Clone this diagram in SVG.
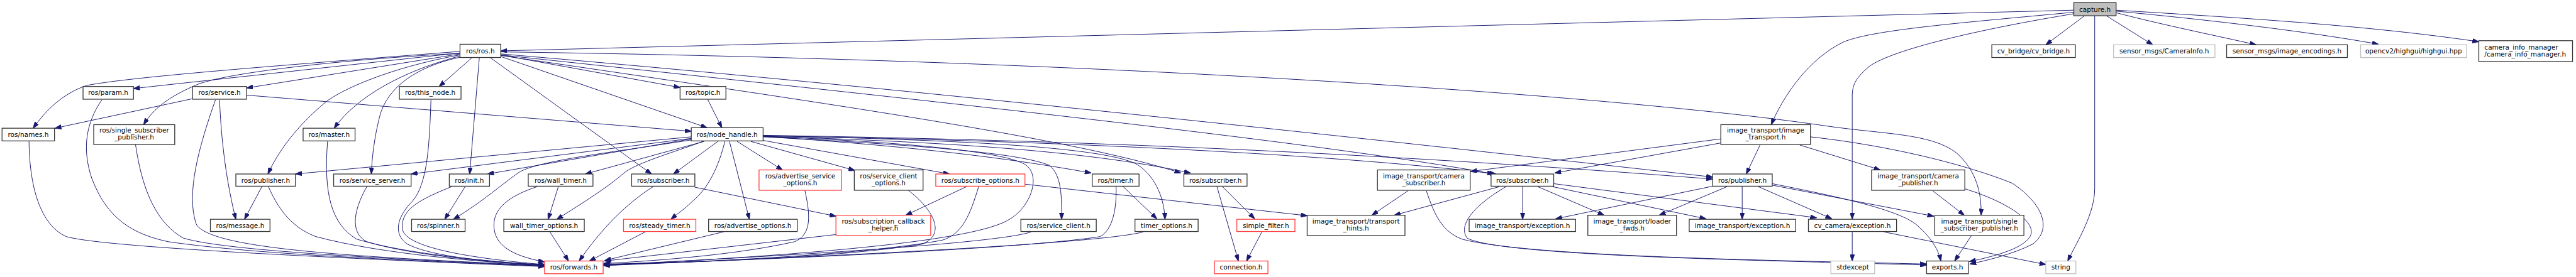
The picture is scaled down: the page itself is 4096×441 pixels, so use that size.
<svg xmlns="http://www.w3.org/2000/svg" width="4096" height="441" viewBox="0 0 4096 441">
<style>
.e{fill:none;stroke:#191970;stroke-width:1.2}
.n rect{fill:#fff;stroke:#333;stroke-width:1.6}
.n.r rect{stroke:#ff3b3b}
.n.g rect{stroke:#c0c0c0}
.n.root rect{fill:#bfbfbf}
text{font-family:"DejaVu Sans","Liberation Sans",sans-serif;font-size:13px;fill:#000;text-anchor:middle}
text.l{text-anchor:start}
</style>
<defs>
<marker id="a" viewBox="0 0 13 9" refX="12.5" refY="4.5" markerWidth="13" markerHeight="9" markerUnits="userSpaceOnUse" orient="auto"><path d="M0,0 L13,4.5 L0,9 z" fill="#191970" stroke="#191970" stroke-width="1"/></marker>
</defs>
<rect x="0" y="0" width="4096" height="441" fill="#fff"/>
<g transform="scale(0.81)">
<g id="edges" marker-end="url(#a)">
<path class="e" d="M4071,20 L983,100"/>
<path class="e" d="M4071,24 C3850,45 3680,58 3620,82 C3550,115 3500,190 3477,245"/>
<path class="e" d="M4071,27 C3900,55 3720,95 3670,130 C3640,155 3636,170 3636,190 L3636,431"/>
<path class="e" d="M4092,31 L4016,88"/>
<path class="e" d="M4112,31 L4112,370 C4112,420 4080,470 4059,513"/>
<path class="e" d="M4135,31 L4226,88"/>
<path class="e" d="M4154,25 C4250,50 4350,70 4429,88"/>
<path class="e" d="M4154,22 C4350,40 4550,65 4669,87"/>
<path class="e" d="M4154,20 C4400,35 4650,50 4866,82"/>
<path class="e" d="M903,101 C600,125 260,150 170,168 C120,185 88,220 65,252"/>
<path class="e" d="M903,104 L262,174"/>
<path class="e" d="M903,105 C700,115 460,140 390,165 C330,190 300,215 282,245"/>
<path class="e" d="M903,106 L484,173"/>
<path class="e" d="M903,108 C780,130 680,170 640,200 C580,250 545,300 526,342"/>
<path class="e" d="M903,110 C790,140 700,190 656,252"/>
<path class="e" d="M905,112 C820,130 760,170 745,230 C735,270 730,310 729,342"/>
<path class="e" d="M927,113 L862,170"/>
<path class="e" d="M941,113 L922,342"/>
<path class="e" d="M962,113 L1279,342"/>
<path class="e" d="M983,108 L1335,172"/>
<path class="e" d="M983,111 L1388,251"/>
<path class="e" d="M983,102 C2200,118 3200,190 3588,248 C3700,264 3790,262 3840,300 C3880,335 3890,380 3889,423"/>
<path class="e" d="M983,106 C1800,175 2800,285 3362,348"/>
<path class="e" d="M983,108 C1800,195 2600,280 2932,342"/>
<path class="e" d="M983,109 C1600,200 2100,270 2318,340"/>
<path class="e" d="M1357,269 L580,342"/>
<path class="e" d="M1357,272 L807,342"/>
<path class="e" d="M1357,273 L957,342"/>
<path class="e" d="M1357,275 C1200,300 1060,315 1020,338 C990,358 950,395 890,431"/>
<path class="e" d="M1382,278 L1149,342"/>
<path class="e" d="M1380,278 C1320,300 1250,320 1225,340 C1190,370 1150,395 1093,431"/>
<path class="e" d="M1409,278 L1322,342"/>
<path class="e" d="M1423,278 C1410,330 1390,370 1360,395 C1345,410 1330,420 1317,431"/>
<path class="e" d="M1432,278 L1471,431"/>
<path class="e" d="M1447,278 L1536,334"/>
<path class="e" d="M1474,278 L1678,335"/>
<path class="e" d="M1498,276 L1864,342"/>
<path class="e" d="M1498,268 C1750,285 1950,305 2142,340"/>
<path class="e" d="M1498,269 C1800,285 2000,300 2060,325 C2085,345 2084,390 2084,431"/>
<path class="e" d="M1498,268 C1800,280 1980,300 2015,325 C2045,350 2020,410 1980,432 C1900,480 1500,505 1185,522"/>
<path class="e" d="M1498,267 C1900,275 2180,290 2235,325 C2270,350 2285,390 2287,431"/>
<path class="e" d="M1498,268 C1900,280 2150,300 2337,340"/>
<path class="e" d="M1498,267 C2000,275 2600,300 2937,342"/>
<path class="e" d="M1498,266 C2100,275 2700,300 3362,352"/>
<path class="e" d="M1389,195 L1417,251"/>
<path class="e" d="M484,187 L1357,258"/>
<path class="e" d="M378,194 L108,252"/>
<path class="e" d="M431,196 C435,300 450,380 463,431"/>
<path class="e" d="M423,196 C390,290 365,380 385,440 C410,490 700,505 1069,522"/>
<path class="e" d="M57,278 C58,380 85,445 130,465 C200,485 600,505 1069,524"/>
<path class="e" d="M200,196 C170,240 160,290 180,350 C210,430 260,460 330,475 C500,500 800,512 1069,523"/>
<path class="e" d="M266,284 C280,380 310,440 360,468 C450,495 800,510 1069,523"/>
<path class="e" d="M643,278 C635,380 650,440 700,470 C800,500 950,512 1069,522"/>
<path class="e" d="M514,367 L480,431"/>
<path class="e" d="M527,367 C550,420 580,450 620,465 C750,500 950,515 1069,522"/>
<path class="e" d="M720,367 C690,420 690,460 720,475 C800,500 950,515 1069,521"/>
<path class="e" d="M846,196 C843,280 840,360 810,395 C780,425 770,460 800,480 C850,505 960,515 1069,520"/>
<path class="e" d="M913,367 L873,431"/>
<path class="e" d="M886,367 C830,390 785,410 790,450 C795,490 950,510 1069,520"/>
<path class="e" d="M1096,367 L1076,431"/>
<path class="e" d="M1054,367 C1000,385 965,410 970,450 C975,490 1020,505 1069,515"/>
<path class="e" d="M1079,455 L1116,513"/>
<path class="e" d="M1282,367 C1230,400 1180,450 1137,513"/>
<path class="e" d="M1364,368 L1641,425"/>
<path class="e" d="M1268,455 L1157,513"/>
<path class="e" d="M1423,455 L1187,512"/>
<path class="e" d="M1580,374 C1590,420 1595,460 1560,475 C1450,500 1300,512 1185,518"/>
<path class="e" d="M1783,374 C1830,410 1860,460 1810,480 C1650,505 1400,515 1185,519"/>
<path class="e" d="M1897,367 L1778,423"/>
<path class="e" d="M1921,367 C1905,420 1890,460 1850,472 C1700,500 1400,515 1185,520"/>
<path class="e" d="M1641,461 L1187,513"/>
<path class="e" d="M2012,362 L2566,424"/>
<path class="e" d="M2205,367 L2271,430"/>
<path class="e" d="M2191,367 C2192,410 2185,450 2160,465 C2000,490 1500,510 1185,521"/>
<path class="e" d="M2024,456 C1950,480 1500,505 1185,521"/>
<path class="e" d="M2244,456 C2150,480 1600,505 1185,522"/>
<path class="e" d="M2400,367 L2463,430"/>
<path class="e" d="M2389,367 L2431,513"/>
<path class="e" d="M2477,456 L2447,513"/>
<path class="e" d="M2764,375 L2693,423"/>
<path class="e" d="M2800,375 C2815,420 2830,455 2870,470 C3000,505 3500,512 3782,519"/>
<path class="e" d="M2943,367 L2737,423"/>
<path class="e" d="M2989,367 L2989,431"/>
<path class="e" d="M3019,367 L3149,423"/>
<path class="e" d="M3048,367 L3349,430"/>
<path class="e" d="M2956,367 C2900,400 2860,440 2880,468 C2950,505 3500,512 3782,521"/>
<path class="e" d="M3050,361 L3566,428"/>
<path class="e" d="M3362,366 L3054,430"/>
<path class="e" d="M3390,367 L3257,423"/>
<path class="e" d="M3420,367 L3420,431"/>
<path class="e" d="M3452,367 L3596,430"/>
<path class="e" d="M3479,364 L3796,425"/>
<path class="e" d="M3479,361 C3600,385 3720,410 3760,440 C3790,465 3805,490 3810,513"/>
<path class="e" d="M3378,273 L2887,337"/>
<path class="e" d="M3378,281 L3052,340"/>
<path class="e" d="M3455,285 L3428,342"/>
<path class="e" d="M3533,285 L3691,334"/>
<path class="e" d="M3554,269 C3700,285 3850,320 3950,360 C4010,400 4030,450 3990,480 C3950,500 3900,512 3867,519"/>
<path class="e" d="M3794,375 L3856,423"/>
<path class="e" d="M3857,371 C3950,400 4000,440 3985,465 C3970,490 3910,505 3866,514"/>
<path class="e" d="M3870,463 L3837,513"/>
<path class="e" d="M3636,456 L3636,513"/>
<path class="e" d="M3699,456 L4016,520"/>
</g>
<g id="n_capture" class="n root"><rect x="4071" y="5" width="83" height="26"/><text x="4112.5" y="23">capture.h</text></g>
<g id="n_ros" class="n"><rect x="903" y="87" width="80" height="26"/><text x="943" y="105">ros/ros.h</text></g>
<g id="n_cvbridge" class="n"><rect x="3910" y="88" width="164" height="25"/><text x="3992" y="105">cv_bridge/cv_bridge.h</text></g>
<g id="n_camerainfo" class="n g"><rect x="4149" y="88" width="199" height="25"/><text x="4248.5" y="105">sensor_msgs/CameraInfo.h</text></g>
<g id="n_imgenc" class="n"><rect x="4371" y="88" width="237" height="25"/><text x="4489.5" y="105">sensor_msgs/image_encodings.h</text></g>
<g id="n_highgui" class="n g"><rect x="4634" y="88" width="208" height="25"/><text x="4738" y="105">opencv2/highgui/highgui.hpp</text></g>
<g id="n_cim" class="n"><rect x="4866" y="80" width="184" height="41"/><text class="l" x="4877" y="97">camera_info_manager</text><text class="l" x="4877" y="111">/camera_info_manager.h</text></g>
<g id="n_param" class="n"><rect x="163" y="170" width="99" height="25"/><text x="212.5" y="187">ros/param.h</text></g>
<g id="n_service" class="n"><rect x="378" y="170" width="106" height="25"/><text x="431" y="187">ros/service.h</text></g>
<g id="n_thisnode" class="n"><rect x="784" y="170" width="121" height="25"/><text x="844.5" y="187">ros/this_node.h</text></g>
<g id="n_topic" class="n"><rect x="1335" y="170" width="90" height="25"/><text x="1380" y="187">ros/topic.h</text></g>
<g id="n_names" class="n"><rect x="4" y="252" width="103" height="25"/><text x="55.5" y="269">ros/names.h</text></g>
<g id="n_rsspub" class="n"><rect x="184" y="245" width="159" height="39"/><text x="263.5" y="260">ros/single_subscriber</text><text x="263.5" y="274">_publisher.h</text></g>
<g id="n_master" class="n"><rect x="595" y="252" width="102" height="25"/><text x="646" y="269">ros/master.h</text></g>
<g id="n_nodehandle" class="n"><rect x="1357" y="251" width="141" height="26"/><text x="1427.5" y="269">ros/node_handle.h</text></g>
<g id="n_it" class="n"><rect x="3378" y="245" width="176" height="39"/><text x="3466" y="260">image_transport/image</text><text x="3466" y="274">_transport.h</text></g>
<g id="n_pub1" class="n"><rect x="463" y="342" width="117" height="24"/><text x="521.5" y="359">ros/publisher.h</text></g>
<g id="n_sserver" class="n"><rect x="655" y="342" width="152" height="24"/><text x="731" y="359">ros/service_server.h</text></g>
<g id="n_init" class="n"><rect x="882" y="342" width="79" height="24"/><text x="921.5" y="359">ros/init.h</text></g>
<g id="n_walltimer" class="n"><rect x="1037" y="342" width="127" height="24"/><text x="1100.5" y="359">ros/wall_timer.h</text></g>
<g id="n_sub1" class="n"><rect x="1240" y="342" width="124" height="24"/><text x="1302" y="359">ros/subscriber.h</text></g>
<g id="n_aso" class="n r"><rect x="1490" y="334" width="162" height="40"/><text x="1571" y="350">ros/advertise_service</text><text x="1571" y="364">_options.h</text></g>
<g id="n_sco" class="n"><rect x="1677" y="334" width="135" height="40"/><text x="1744.5" y="350">ros/service_client</text><text x="1744.5" y="364">_options.h</text></g>
<g id="n_subopt" class="n r"><rect x="1837" y="342" width="175" height="24"/><text x="1924.5" y="359">ros/subscribe_options.h</text></g>
<g id="n_timer" class="n"><rect x="2144" y="342" width="92" height="24"/><text x="2190" y="359">ros/timer.h</text></g>
<g id="n_sub2" class="n"><rect x="2324" y="342" width="124" height="24"/><text x="2386" y="359">ros/subscriber.h</text></g>
<g id="n_camsub" class="n"><rect x="2704" y="334" width="182" height="40"/><text x="2795" y="350">image_transport/camera</text><text x="2795" y="364">_subscriber.h</text></g>
<g id="n_sub3" class="n"><rect x="2927" y="342" width="123" height="24"/><text x="2988.5" y="359">ros/subscriber.h</text></g>
<g id="n_pub2" class="n"><rect x="3362" y="342" width="117" height="24"/><text x="3420.5" y="359">ros/publisher.h</text></g>
<g id="n_campub" class="n"><rect x="3674" y="334" width="183" height="40"/><text x="3765.5" y="350">image_transport/camera</text><text x="3765.5" y="364">_publisher.h</text></g>
<g id="n_message" class="n"><rect x="413" y="431" width="117" height="24"/><text x="471.5" y="448">ros/message.h</text></g>
<g id="n_spinner" class="n"><rect x="808" y="431" width="105" height="24"/><text x="860.5" y="448">ros/spinner.h</text></g>
<g id="n_wto" class="n"><rect x="989" y="431" width="158" height="24"/><text x="1068" y="448">wall_timer_options.h</text></g>
<g id="n_steady" class="n r"><rect x="1224" y="431" width="142" height="24"/><text x="1295" y="448">ros/steady_timer.h</text></g>
<g id="n_advopt" class="n"><rect x="1391" y="431" width="174" height="24"/><text x="1478" y="448">ros/advertise_options.h</text></g>
<g id="n_scbh" class="n r"><rect x="1641" y="423" width="186" height="40"/><text x="1734" y="439">ros/subscription_callback</text><text x="1734" y="453">_helper.h</text></g>
<g id="n_sclient" class="n"><rect x="2004" y="431" width="148" height="24"/><text x="2078" y="448">ros/service_client.h</text></g>
<g id="n_topt" class="n"><rect x="2228" y="431" width="124" height="24"/><text x="2290" y="448">timer_options.h</text></g>
<g id="n_sfilter" class="n r"><rect x="2428" y="431" width="114" height="24"/><text x="2485" y="448">simple_filter.h</text></g>
<g id="n_thints" class="n"><rect x="2566" y="423" width="192" height="40"/><text x="2662" y="439">image_transport/transport</text><text x="2662" y="453">_hints.h</text></g>
<g id="n_itexc1" class="n"><rect x="2884" y="431" width="209" height="24"/><text x="2988.5" y="448">image_transport/exception.h</text></g>
<g id="n_lfwds" class="n"><rect x="3117" y="423" width="174" height="40"/><text x="3204" y="439">image_transport/loader</text><text x="3204" y="453">_fwds.h</text></g>
<g id="n_itexc2" class="n"><rect x="3316" y="431" width="209" height="24"/><text x="3420.5" y="448">image_transport/exception.h</text></g>
<g id="n_cvexc" class="n"><rect x="3550" y="431" width="173" height="24"/><text x="3636.5" y="448">cv_camera/exception.h</text></g>
<g id="n_itssp" class="n"><rect x="3798" y="423" width="175" height="40"/><text x="3885.5" y="439">image_transport/single</text><text x="3885.5" y="453">_subscriber_publisher.h</text></g>
<g id="n_forwards" class="n r"><rect x="1069" y="513" width="115" height="25"/><text x="1126.5" y="530">ros/forwards.h</text></g>
<g id="n_connection" class="n r"><rect x="2384" y="513" width="105" height="25"/><text x="2436.5" y="530">connection.h</text></g>
<g id="n_stdexcept" class="n g"><rect x="3594" y="513" width="86" height="25"/><text x="3637" y="530">stdexcept</text></g>
<g id="n_exports" class="n"><rect x="3782" y="513" width="82" height="25"/><text x="3823" y="530">exports.h</text></g>
<g id="n_string" class="n g"><rect x="4016" y="513" width="59" height="25"/><text x="4045.5" y="530">string</text></g>
</g>
</svg>
